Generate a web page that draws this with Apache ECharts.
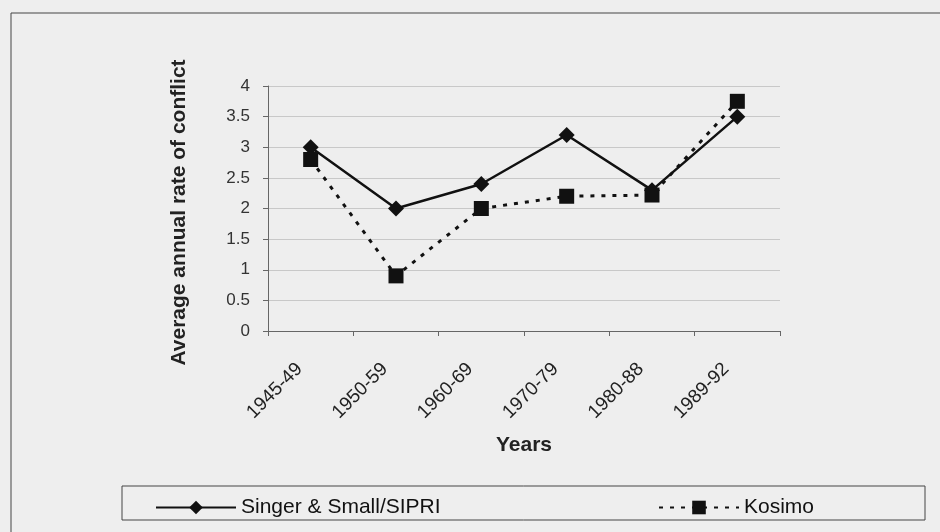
<!DOCTYPE html>
<html><head><meta charset="utf-8">
<script src="https://cdn.jsdelivr.net/npm/echarts@6/dist/echarts.min.js"></script>
<style>html,body{margin:0;padding:0;background:#eeeeee;}#c{width:940px;height:532px;}</style>
</head><body><div id="c"></div>
<script>
const categories = ['1945-49','1950-59','1960-69','1970-79','1980-88','1989-92'];
const singerSmall = [3.0, 2.0, 2.4, 3.2, 2.3, 3.5];
const kosimo = [2.8, 0.9, 2.0, 2.2, 2.22, 3.75];
const yTicks = [0, 0.5, 1, 1.5, 2, 2.5, 3, 3.5, 4];

const chart = echarts.init(document.getElementById('c'));
const font = 'Liberation Sans, Arial, sans-serif';
chart.setOption({
  backgroundColor: '#eeeeee',
  animation: false,
  graphic: [
    {type:'rect', shape:{x:11,y:13,width:940,height:540}, style:{fill:'none', stroke:'#444', lineWidth:1}},
    {type:'rect', shape:{x:122,y:486,width:803,height:34}, style:{fill:'none', stroke:'#444', lineWidth:1}}
  ],
  grid: {left:268, right:160, top:86, bottom:201},
  legend: [
    {data:['Singer & Small/SIPRI'], left:150, top:492, itemWidth:80, itemHeight:17, itemGap:5,
     textStyle:{fontFamily:font, fontSize:21, color:'#111'}},
    {data:['Kosimo'], left:653, top:492, itemWidth:80, itemHeight:17, itemGap:5,
     textStyle:{fontFamily:font, fontSize:21, color:'#111'}}
  ],
  xAxis: {
    type:'category', data:categories, boundaryGap:true,
    name:'Years', nameLocation:'middle', nameGap:104,
    nameTextStyle:{fontFamily:font, fontSize:21, fontWeight:'bold', color:'#222'},
    axisLine:{lineStyle:{color:'#666', width:1}},
    axisTick:{show:true, alignWithLabel:false, length:5, lineStyle:{color:'#666'}},
    axisLabel:{rotate:45, fontFamily:font, fontSize:19, color:'#222', margin:24,
      formatter: v => v + '   '},
    splitLine:{show:false}
  },
  yAxis: {
    type:'value', min:0, max:4, interval:0.5,
    name:'Average annual rate of conflict', nameLocation:'middle', nameGap:78,
    nameTextStyle:{fontFamily:font, fontSize:21, fontWeight:'bold', color:'#222', padding:[0,0,0,-8]},
    axisLine:{show:true, lineStyle:{color:'#666', width:1}},
    axisTick:{show:true, length:5, lineStyle:{color:'#666'}},
    axisLabel:{fontFamily:font, fontSize:17, color:'#333', margin:18,
      formatter: v => (yTicks.indexOf(v) >= 0 ? String(v) : '')},
    splitLine:{show:true, lineStyle:{color:'#c8c8c8', width:1}}
  },
  series: [
    {name:'Singer & Small/SIPRI', type:'line', data:singerSmall,
     symbol:'diamond', symbolSize:16, color:'#111',
     lineStyle:{color:'#111', width:2.5}, itemStyle:{color:'#111'}},
    {name:'Kosimo', type:'line', data:kosimo,
     symbol:'rect', symbolSize:15, color:'#111',
     lineStyle:{color:'#111', width:3, type:[4,7]}, itemStyle:{color:'#111'}}
  ]
});
</script></body></html>
